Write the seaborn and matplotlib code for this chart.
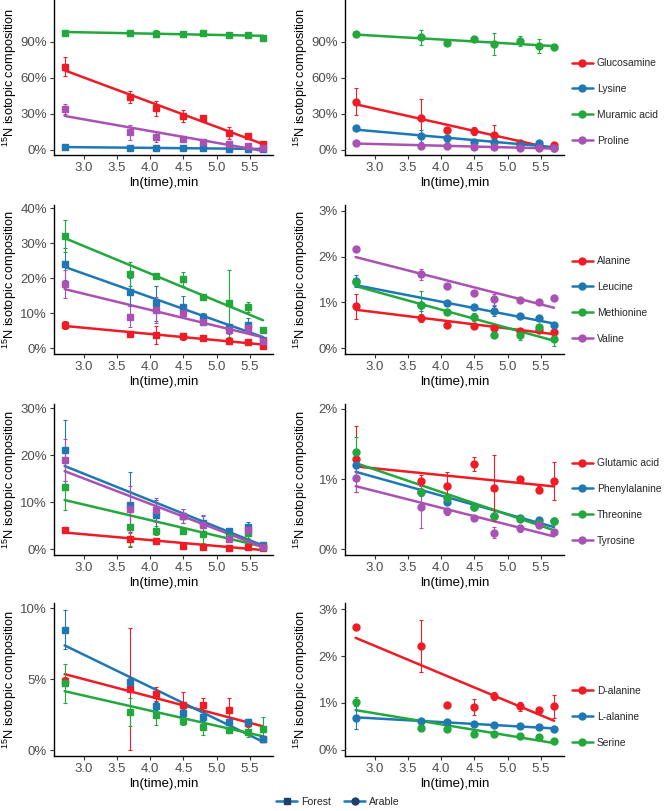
import matplotlib
matplotlib.use("Agg")
import matplotlib.pyplot as plt
import numpy as np
import seaborn as sns
from matplotlib.lines import Line2D
from matplotlib.ticker import FuncFormatter

# ln(time) for sampling times 15, 40, 60, 90, 120, 180, 240, 300 min
ln_time = [2.71, 3.69, 4.09, 4.50, 4.79, 5.19, 5.48, 5.70]

# row 1: amino sugars / lysine / proline (values in %)
forest_r1 = {
    "Glucosamine": [69.4, 43.9, 34.7, 28.3, 26.4, 13.9, 11.7, 5.0],
    "Lysine": [2.5, 1.8, 1.6, 1.5, 1.3, 1.2, 1.0, 0.8],
    "Muramic acid": [97.8, 97.2, 97.0, 96.7, 97.2, 96.1, 95.8, 93.5],
    "Proline": [34.2, 14.7, 10.6, 8.9, 6.9, 5.0, 3.6, 1.5],
}
forest_r1_err = {
    "Glucosamine": [7.8, 5, 6, 5, 2, 5, 2, 1],
    "Lysine": [0.5, 0.4, 0.4, 0.4, 0.3, 0.3, 0.3, 0.2],
    "Muramic acid": [1, 1, 3, 1, 1, 1, 1, 1],
    "Proline": [4, 6, 4, 2, 2, 2, 1.5, 0.5],
}
arable_r1 = {
    "Glucosamine": [40.3, 26.4, 16.7, 15.8, 12.5, 5.8, 3.3, 4.0],
    "Lysine": [18.0, 11.9, 9.7, 6.9, 6.4, 4.0, 6.0, 2.0],
    "Muramic acid": [96.4, 93.9, 88.9, 92.2, 88.3, 90.8, 86.7, 85.8],
    "Proline": [6.0, 3.6, 3.0, 2.5, 2.2, 2.0, 1.8, 1.5],
}
arable_r1_err = {
    "Glucosamine": [11, 16, 0.5, 3, 8, 2, 1, 1],
    "Lysine": [1, 5, 3, 1, 1, 1, 1, 0.5],
    "Muramic acid": [1, 6, 1, 1, 9, 4, 6, 1],
    "Proline": [0.5, 0.5, 0.3, 0.3, 0.3, 0.3, 0.3, 0.3],
}

# row 2
forest_r2 = {
    "Alanine": [6.7, 4.1, 3.8, 3.5, 2.9, 2.1, 1.7, 0.8],
    "Leucine": [24.1, 16.2, 12.9, 11.9, 9.0, 6.0, 6.7, 2.5],
    "Methionine": [32.2, 21.2, 20.8, 19.8, 14.6, 12.9, 11.9, 5.2],
    "Valine": [18.4, 9.0, 11.0, 10.0, 7.6, 5.2, 5.7, 2.0],
}
forest_r2_err = {
    "Alanine": [1.2, 0.5, 2.6, 1.0, 0.4, 0.4, 0.4, 0.3],
    "Leucine": [4.5, 4, 5, 3, 1, 1, 2, 0.5],
    "Methionine": [4.5, 3.5, 0.5, 2, 0.5, 9.5, 1.5, 0.5],
    "Valine": [4, 3, 3.7, 1, 1, 1, 1, 0.5],
}
arable_r2 = {
    "Alanine": [0.91, 0.66, 0.51, 0.48, 0.43, 0.38, 0.40, 0.35],
    "Leucine": [1.46, 0.95, 0.99, 0.89, 0.81, 0.70, 0.65, 0.50],
    "Methionine": [1.44, 0.94, 0.78, 0.68, 0.29, 0.28, 0.45, 0.20],
    "Valine": [2.16, 1.61, 1.36, 1.21, 1.07, 1.05, 1.00, 1.10],
}
arable_r2_err = {
    "Alanine": [0.28, 0.08, 0.03, 0.03, 0.03, 0.03, 0.03, 0.03],
    "Leucine": [0.13, 0.15, 0.03, 0.03, 0.10, 0.03, 0.03, 0.03],
    "Methionine": [0.05, 0.30, 0.03, 0.08, 0.03, 0.10, 0.05, 0.15],
    "Valine": [0.03, 0.12, 0.03, 0.03, 0.12, 0.03, 0.03, 0.03],
}

# row 3
forest_r3 = {
    "Glutamic acid": [4.1, 2.1, 1.8, 0.8, 0.6, 0.35, 0.6, 0.2],
    "Phenylalanine": [21.1, 9.4, 7.4, 7.0, 5.5, 3.8, 4.7, 1.0],
    "Threonine": [13.3, 4.7, 4.0, 4.0, 3.3, 2.7, 3.4, 0.5],
    "Tyrosine": [19.0, 8.5, 8.4, 7.0, 5.2, 2.2, 4.1, 0.5],
}
forest_r3_err = {
    "Glutamic acid": [0.4, 1.5, 0.5, 0.4, 0.3, 0.3, 0.3, 0.2],
    "Phenylalanine": [6.5, 7, 3, 1.5, 1.5, 0.5, 1.2, 0.3],
    "Threonine": [5, 4, 1, 0.4, 2, 0.5, 1, 0.3],
    "Tyrosine": [4.5, 5, 2.5, 1.5, 2, 0.5, 1, 0.3],
}
arable_r3 = {
    "Glutamic acid": [1.28, 0.98, 0.90, 1.22, 0.87, 1.00, 0.85, 0.97],
    "Phenylalanine": [1.20, 0.81, 0.68, 0.60, 0.47, 0.45, 0.42, 0.40],
    "Threonine": [1.38, 0.81, 0.73, 0.60, 0.47, 0.43, 0.38, 0.40],
    "Tyrosine": [1.01, 0.61, 0.54, 0.44, 0.24, 0.30, 0.35, 0.25],
}
arable_r3_err = {
    "Glutamic acid": [0.47, 0.08, 0.20, 0.10, 0.47, 0.03, 0.05, 0.27],
    "Phenylalanine": [0.03, 0.03, 0.03, 0.03, 0.03, 0.03, 0.03, 0.03],
    "Threonine": [0.22, 0.05, 0.03, 0.03, 0.03, 0.03, 0.03, 0.03],
    "Tyrosine": [0.20, 0.30, 0.05, 0.02, 0.08, 0.05, 0.03, 0.03],
}

# row 4
forest_r4 = {
    "D-alanine": [4.87, 4.3, 3.95, 3.2, 3.2, 2.8, 1.9, 0.8],
    "L-alanine": [8.5, 4.8, 3.1, 2.6, 2.35, 2.0, 2.0, 0.8],
    "Serine": [4.7, 2.7, 2.5, 2.05, 1.65, 1.4, 1.3, 1.5],
}
forest_r4_err = {
    "D-alanine": [0.3, 4.3, 0.5, 0.9, 0.5, 0.9, 0.3, 0.2],
    "L-alanine": [1.4, 0.3, 0.3, 0.3, 0.3, 0.2, 0.2, 0.2],
    "Serine": [1.4, 1.0, 0.7, 0.3, 0.6, 0.2, 0.4, 0.8],
}
arable_r4 = {
    "D-alanine": [2.61, 2.21, 0.96, 0.91, 1.15, 0.93, 0.85, 0.93],
    "L-alanine": [0.69, 0.62, 0.59, 0.55, 0.53, 0.50, 0.48, 0.45],
    "Serine": [1.03, 0.46, 0.44, 0.34, 0.33, 0.30, 0.28, 0.20],
}
arable_r4_err = {
    "D-alanine": [0.02, 0.55, 0.02, 0.17, 0.08, 0.10, 0.05, 0.25],
    "L-alanine": [0.24, 0.03, 0.03, 0.03, 0.03, 0.03, 0.03, 0.03],
    "Serine": [0.10, 0.03, 0.03, 0.03, 0.03, 0.03, 0.03, 0.03],
}

palette = ["#EE1C25", "#1F78B4", "#22A83C", "#A952B3"]

W, H = 666, 811


def rect(x0, x1, y0, y1):
    return [x0 / W, 1 - y1 / H, (x1 - x0) / W, (y1 - y0) / H]


def draw_panel(ax, means, errs, marker, ylim, yticks):
    for (name, vals), color in zip(means.items(), palette):
        ax.errorbar(ln_time, vals, yerr=errs[name], fmt=marker, color=color,
                    ms=5, capsize=1.5, elinewidth=0.8, capthick=0.8, zorder=3)
        sns.regplot(x=np.array(ln_time), y=np.array(vals), ax=ax, scatter=False,
                    ci=None, color=color, line_kws=dict(lw=1.8, zorder=2))
    ax.set_xlim(2.55, 5.85)
    ax.set_ylim(*ylim)
    ax.set_xticks([3.0, 3.5, 4.0, 4.5, 5.0, 5.5])
    ax.set_yticks(yticks)
    ax.yaxis.set_major_formatter(FuncFormatter(lambda v, p: f"{v:.0f}%"))
    ax.xaxis.set_major_formatter(FuncFormatter(lambda v, p: f"{v:.1f}"))
    for s in ["top", "right"]:
        ax.spines[s].set_visible(False)
    for s in ["left", "bottom"]:
        ax.spines[s].set_color("black")
        ax.spines[s].set_linewidth(1.0)
    ax.tick_params(axis="both", colors="#333333", labelcolor="#4d4d4d",
                   labelsize=9.5, length=3, width=0.8, pad=2)
    ax.set_xlabel("ln(time),min", fontsize=9.5, color="black", labelpad=2)
    ax.set_ylabel("$^{15}$N isotopic composition", fontsize=9.2, color="black")
    ax.yaxis.set_label_coords(-0.158, 0.5)
    ax.grid(False)


sns.set_style("ticks")
plt.rcParams["font.family"] = ["Liberation Sans", "DejaVu Sans"]
plt.rcParams["mathtext.default"] = "regular"

fig = plt.figure(figsize=(W / 100, H / 100), dpi=100)

rows = [
    (forest_r1, forest_r1_err, arable_r1, arable_r1_err, (0, 155),
     (-4.2, 125), [0, 30, 60, 90], (-4.2, 125), [0, 30, 60, 90], 102),
    (forest_r2, forest_r2_err, arable_r2, arable_r2_err, (205, 354),
     (-1.6, 41), [0, 10, 20, 30, 40], (-0.13, 3.13), [0, 1, 2, 3], 300),
    (forest_r3, forest_r3_err, arable_r3, arable_r3_err, (404, 555),
     (-1.2, 30.9), [0, 10, 20, 30], (-0.08, 2.07), [0, 1, 2], 502),
    (forest_r4, forest_r4_err, arable_r4, arable_r4_err, (603, 756),
     (-0.42, 10.37), [0, 5, 10], (-0.13, 3.13), [0, 1, 2, 3], 717),
]

for f_m, f_e, a_m, a_e, (top, bot), f_lim, f_ticks, a_lim, a_ticks, leg_y in rows:
    ax_f = fig.add_axes(rect(54, 273, top, bot))
    draw_panel(ax_f, f_m, f_e, "s", f_lim, f_ticks)
    ax_a = fig.add_axes(rect(345, 564, top, bot))
    draw_panel(ax_a, a_m, a_e, "o", a_lim, a_ticks)
    handles = [Line2D([], [], color=c, marker="o", ms=5, lw=1.8)
               for c in palette[:len(a_m)]]
    fig.legend(handles, list(a_m.keys()), loc="center left",
               bbox_to_anchor=(572 / W, 1 - leg_y / H), frameon=False,
               fontsize=7.4, handlelength=2.0, handletextpad=0.4,
               labelspacing=1.55, borderaxespad=0, borderpad=0)

site_handles = [
    Line2D([], [], color="#1F78B4", marker="s", mfc="#1f3f6e", mec="#1f3f6e", ms=5, lw=1.8),
    Line2D([], [], color="#1F78B4", marker="o", mfc="#1f3f6e", mec="#1f3f6e", ms=5, lw=1.8),
]
fig.legend(site_handles, ["Forest", "Arable"], loc="center", ncol=2,
           bbox_to_anchor=(338 / W, 1 - 802 / H), frameon=False, fontsize=7.6,
           handlelength=2.0, handletextpad=0.4, columnspacing=1.2)

fig.savefig("out.png", dpi=100)
